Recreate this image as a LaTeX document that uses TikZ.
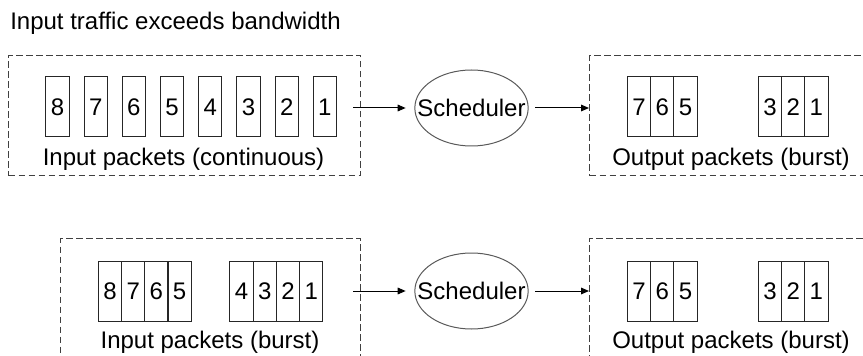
\documentclass[tikz,border=0pt]{standalone}
\usepackage{fontspec}
\setmainfont{Liberation Sans}
\usetikzlibrary{arrows.meta,shapes.geometric}
\begin{document}
\begin{tikzpicture}[x=0.75pt,y=-0.75pt,
  every node/.style={font=\fontsize{18}{21}\selectfont},
  pkt/.style={draw=black!85, line width=0.75pt, minimum width=17.5pt, minimum height=45pt, inner sep=0pt},
  dbox/.style={draw=black!75, line width=0.75pt, dash pattern=on 5pt off 2.5pt, inner sep=0pt, anchor=north west},
  sched/.style={ellipse, draw=black!65, line width=0.75pt, minimum width=85pt, minimum height=57pt, inner sep=0pt},
  arr/.style={-{Triangle[length=6pt,width=5pt]}, line width=0.75pt},
  lbl/.style={anchor=base, inner sep=0pt}]
\useasboundingbox (0,0) rectangle (863,356);
\clip (0,0) rectangle (863,356);

\node[lbl, anchor=base west] (title) at (10,30) {Input traffic exceeds bandwidth};

% dashed frames
\node[dbox, minimum width=264pt, minimum height=90pt] (inA) at (8,55) {};
\node[dbox, minimum width=218pt, minimum height=90pt] (outA) at (589,55) {};
\node[dbox, minimum width=225pt, minimum height=99pt] (inB) at (60,238) {};
\node[dbox, minimum width=218pt, minimum height=99pt] (outB) at (589,238) {};

% top row input packets
\foreach \n [count=\i from 0] in {8,7,6,5,4,3,2,1}
  \node[pkt] (a\n) at ({57.5+38.2*\i},107) {\n};
\node[lbl] (inlblA) at (183.5,166) {Input packets (continuous)};

% top scheduler
\node[sched] (schA) at (471.5,108) {\makebox[0pt]{Scheduler}};
\coordinate (srcA) at (353,108);
\draw[arr, shorten >=6.5pt] (srcA) -- (schA);
\draw[arr, shorten <=5pt] (schA) -- (schA -| outA.west);

% top output packets
\foreach \n [count=\i from 0] in {7,6,5}
  \node[pkt] (oa\n) at ({639+23.3*\i},107) {\n};
\foreach \n [count=\i from 0] in {3,2,1}
  \node[pkt] (oa\n) at ({770+23.2*\i},107) {\n};
\node[lbl] (outlblA) at (731,166) {Output packets (burst)};

% bottom row input packets
\foreach \n [count=\i from 0] in {8,7,6,5}
  \node[pkt] (b\n) at ({110+23.2*\i},291) {\n};
\foreach \n [count=\i from 0] in {4,3,2,1}
  \node[pkt] (b\n) at ({241.6+23.2*\i},291) {\n};
\node[lbl] (inlblB) at (210,348) {Input packets (burst)};

% bottom scheduler
\node[sched] (schB) at (471.5,291) {\makebox[0pt]{Scheduler}};
\coordinate (srcB) at (353,291);
\draw[arr, shorten >=6.5pt] (srcB) -- (schB);
\draw[arr, shorten <=5pt] (schB) -- (schB -| outB.west);

% bottom output packets
\foreach \n [count=\i from 0] in {7,6,5}
  \node[pkt] (ob\n) at ({639+23.3*\i},291) {\n};
\foreach \n [count=\i from 0] in {3,2,1}
  \node[pkt] (ob\n) at ({770+23.2*\i},291) {\n};
\node[lbl] (outlblB) at (731,348) {Output packets (burst)};
\end{tikzpicture}
\end{document}
